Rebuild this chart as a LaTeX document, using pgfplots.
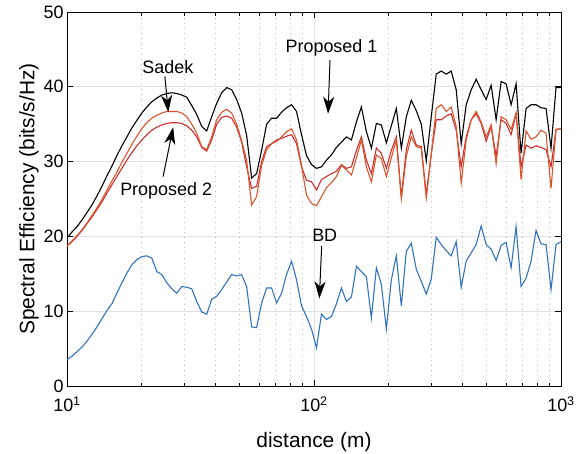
\documentclass[border=0pt]{standalone}
\usepackage{pgfplots}
\pgfplotsset{compat=1.18}
\usepackage{pgfplotstable}
\usepackage{fontspec}
\setmainfont{Liberation Sans}
\usetikzlibrary{arrows.meta}

\definecolor{cSadek}{RGB}{218,85,45}
\definecolor{cPtwo}{RGB}{205,45,45}
\definecolor{cBD}{RGB}{50,115,190}
\definecolor{cGrid}{RGB}{225,225,225}

\pgfplotstableread{
d p1 sadek p2 bd
10.00 19.8 18.7 18.7 3.5
10.48 20.6 19.4 19.3 4.0
10.98 21.3 20.1 20.0 4.6
11.50 22.2 20.9 20.8 5.2
12.05 23.2 21.8 21.7 6.0
12.62 24.2 22.8 22.6 6.9
13.22 25.4 23.8 23.6 7.9
13.85 26.7 24.9 24.6 9.0
14.51 28.1 26.2 25.8 10.1
15.20 29.4 27.4 26.9 11.0
15.92 30.8 28.6 28.0 12.4
16.68 32.1 29.9 29.1 13.8
17.48 33.3 31.1 30.2 15.1
18.31 34.5 32.3 31.2 16.2
19.18 35.5 33.4 32.1 16.9
20.09 36.5 34.4 32.9 17.3
21.05 37.3 35.2 33.6 17.4
22.05 38.0 35.8 34.2 17.1
23.10 38.5 36.2 34.6 15.3
24.20 38.9 36.5 34.9 14.9
25.35 39.1 36.7 35.1 13.8
26.56 39.2 36.7 35.2 13.0
27.83 39.1 36.7 35.2 12.4
29.15 38.9 36.5 35.1 13.3
30.54 38.6 36.0 34.8 13.2
31.99 37.5 35.0 34.2 13.0
33.52 36.3 33.8 33.3 11.3
35.11 34.7 32.0 31.9 9.9
36.78 34.1 31.6 31.4 9.6
38.53 36.0 33.3 32.9 11.6
40.37 37.8 35.6 35.0 12.0
42.29 39.2 36.6 35.9 12.9
44.31 39.9 37.0 36.1 13.9
46.42 39.6 36.5 35.8 14.9
48.63 38.3 35.0 34.6 14.7
50.94 36.5 32.8 32.6 14.9
53.37 33.5 30.2 29.3 13.3
55.91 27.8 24.2 26.4 7.9
58.57 28.4 25.3 26.7 7.8
61.36 31.5 29.5 30.0 11.1
64.28 35.0 31.6 32.0 13.1
67.34 35.8 32.4 32.4 13.1
70.55 35.8 32.7 32.9 11.1
73.91 36.6 33.3 33.1 12.4
77.43 37.2 34.0 33.4 14.9
81.11 37.6 34.4 33.6 16.7
84.98 36.7 32.9 32.4 14.2
89.02 33.6 29.5 29.3 10.7
93.26 30.8 25.5 27.5 9.3
97.70 29.6 24.4 27.3 7.6
102.35 29.1 24.1 26.2 5.1
107.22 29.3 25.3 27.6 9.6
112.33 30.2 26.5 28.0 8.9
117.68 30.9 27.2 28.4 9.3
123.28 31.9 28.0 28.7 11.0
129.15 32.6 29.5 29.6 13.1
135.30 33.3 28.9 29.1 11.3
141.75 32.9 28.2 29.3 11.9
148.50 35.3 30.5 31.5 16.0
155.57 37.3 32.9 33.3 15.3
162.98 34.0 29.3 30.2 14.6
170.74 31.8 27.3 28.4 9.1
178.87 35.1 30.9 31.8 15.8
187.38 34.9 30.4 31.1 13.6
196.31 32.5 28.0 29.1 7.6
205.65 34.8 30.5 31.5 14.2
215.44 37.1 32.9 33.3 17.4
225.70 31.8 25.0 25.3 10.7
236.45 36.0 30.7 31.6 18.0
247.71 38.2 33.3 34.2 19.1
259.50 36.8 32.0 32.2 15.6
271.86 35.0 31.8 32.0 14.0
284.81 30.1 25.1 25.6 12.3
298.36 36.0 31.0 31.0 14.3
312.57 41.7 37.1 35.6 19.9
327.45 42.1 37.6 35.6 18.9
343.05 41.7 36.7 36.1 18.1
359.38 42.1 37.3 36.4 17.4
376.49 39.6 34.7 34.2 19.3
394.42 32.4 27.1 29.3 13.2
413.20 37.6 32.9 33.3 16.7
432.88 39.6 35.6 35.6 17.8
453.49 41.0 36.7 36.4 18.9
475.08 39.6 35.3 35.1 21.4
497.70 38.3 33.3 32.7 18.9
521.40 40.2 34.9 34.7 18.3
546.23 35.6 29.7 30.7 16.8
572.24 40.7 36.0 35.6 18.8
599.48 40.4 35.6 35.1 19.2
628.03 37.6 34.3 33.6 15.8
657.93 40.4 36.5 36.4 21.3
689.26 31.1 27.6 29.3 13.3
722.08 37.1 34.1 32.2 14.4
756.46 37.6 33.0 31.8 16.7
792.48 37.6 33.3 32.1 20.8
830.21 37.2 34.2 31.9 19.0
869.75 37.1 33.8 31.6 18.9
911.16 31.8 26.4 29.3 12.9
954.55 39.9 34.3 34.3 18.9
1000.0 39.9 34.4 34.4 19.3
}\data

\begin{document}
\begin{tikzpicture}
\begin{axis}[
  at={(0,0)}, anchor=south west,
  scale only axis, width=494bp, height=374bp,
  xmode=log, xmin=10, xmax=1000, ymin=0, ymax=50,
  xtick={10,100,1000},
  xticklabels={10\textsuperscript{1},10\textsuperscript{2},10\textsuperscript{3}},
  ytick={0,10,20,30,40,50},
  /pgf/number format/assume math mode=true,
  tick label style={font=\fontsize{18}{20}\selectfont},
  xticklabel style={yshift=-7bp},
  label style={font=\fontsize{21}{24}\selectfont},
  xlabel={distance (m)},
  ylabel={Spectral Efficiency (bits/s/Hz)},
  xmajorgrids, ymajorgrids, xminorgrids,
  major grid style={draw=cGrid, line width=0.8bp},
  minor grid style={draw=black!25, line width=0.9bp, dash pattern=on 0.9bp off 4.2bp},
  tick align=inside, tick pos=both,
  major tick length=6bp, minor tick length=3.5bp,
  axis line style={line width=0.8bp},
  every tick/.style={black, line width=0.8bp},
  xlabel style={yshift=-14bp},
  ylabel style={yshift=-2bp},
]
\addplot[black, line width=1.1bp] table[x=d, y=p1] {\data};
\addplot[cPtwo, line width=1.1bp] table[x=d, y=p2] {\data};
\addplot[cSadek, line width=1.1bp] table[x=d, y=sadek] {\data};
\addplot[cBD, line width=1.1bp] table[x=d, y=bd] {\data};

\node[font=\fontsize{18}{20}\selectfont] at (axis cs:25.6,42.6) {Sadek};
\draw[-{Stealth[length=17bp,width=11bp,inset=5bp]}, line width=1bp] (axis cs:24.9,41.4) -- (axis cs:25.7,36.6);
\node[font=\fontsize{18}{20}\selectfont] at (axis cs:25.2,26.1) {Proposed 2};
\draw[-{Stealth[length=17bp,width=11bp,inset=5bp]}, line width=1bp] (axis cs:24.5,28.0) -- (axis cs:26.9,34.6);
\node[font=\fontsize{18}{20}\selectfont] at (axis cs:117.7,45.2) {Proposed 1};
\draw[-{Stealth[length=17bp,width=11bp,inset=5bp]}, line width=1bp] (axis cs:116.1,43.6) -- (axis cs:114,36.4);
\node[font=\fontsize{18}{20}\selectfont] at (axis cs:110.5,20.2) {BD};
\draw[-{Stealth[length=17bp,width=11bp,inset=5bp]}, line width=1bp] (axis cs:107.4,18.7) -- (axis cs:105.1,11.7);
\end{axis}
\pgfresetboundingbox
\useasboundingbox (-67bp,-68bp) rectangle (511bp,386bp);
\end{tikzpicture}
\end{document}
